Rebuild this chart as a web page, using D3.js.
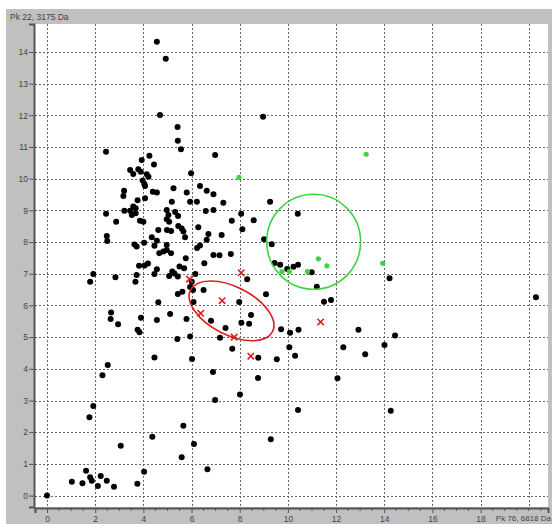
<!DOCTYPE html>
<html><head><meta charset="utf-8">
<script src="https://cdn.jsdelivr.net/npm/d3@7"></script>
<style>
html,body{margin:0;padding:0;background:#fff;}
svg{display:block;font-family:"Liberation Sans",Arial,sans-serif;}
</style></head><body>
<svg id="chart" width="552" height="524"></svg>
<script>
// Peak intensities: Pk 76 (x) against Pk 22 (y)
const xAxisTitle = "Pk 76, 6818 Da";
const yAxisTitle = "Pk 22, 3175 Da";
const xTicks = [0, 2, 4, 6, 8, 10, 12, 14, 16, 18];
const yTicks = [0, 1, 2, 3, 4, 5, 6, 7, 8, 9, 10, 11, 12, 13, 14];
const xGrid = [0, 2, 4, 6, 8, 10, 12, 14, 16, 18, 20];

// Unclassified samples
const blackPoints = [
  [4.56,14.32],[4.93,13.78],[4.69,12.01],[8.97,11.95],[5.42,11.63],[5.43,11.20],[5.56,10.93],[2.45,10.85],
  [3.45,10.27],[3.58,10.15],[3.79,10.30],[4.25,10.72],[3.93,10.59],[4.44,10.45],[3.89,10.22],
  [4.14,10.14],[4.21,10.06],[3.97,9.94],[4.04,9.83],[4.07,9.77],[4.39,9.59],[4.56,9.56],
  [3.20,9.62],[3.17,9.45],[3.76,9.32],[4.07,9.38],[2.45,8.89],[3.58,9.12],[3.68,9.07],
  [3.45,8.99],[3.21,8.99],[3.52,8.85],[3.68,8.91],[2.87,8.64],[3.86,8.67],[4.00,8.64],
  [2.48,8.19],[2.50,8.03],[3.63,7.92],[3.72,7.86],[1.92,6.99],[1.79,6.75],[2.84,6.89],
  [3.72,6.96],[3.67,6.75],[3.82,7.25],[2.66,5.78],[2.64,5.57],[2.95,5.41],[3.76,5.23],
  [3.84,5.15],[2.52,4.12],[2.30,3.80],[4.62,8.38],[4.03,7.98],[4.35,8.15],[4.56,8.04],
  [4.46,7.88],[4.66,7.65],[4.83,7.70],[4.05,7.26],[4.19,7.32],[4.56,7.14],[4.46,6.99],
  [4.62,6.10],[3.90,5.61],[4.56,5.54],[4.46,4.36],
  [6.98,10.75],[5.98,10.17],[5.25,9.70],[6.35,9.77],[6.63,9.62],[6.91,9.51],[5.80,9.56],
  [7.32,9.24],[5.18,9.27],[5.94,9.27],[6.22,9.27],[4.97,9.01],[5.04,8.85],[4.97,8.72],
  [5.07,8.64],[5.32,8.95],[5.44,8.82],[6.59,8.98],[6.91,9.01],[8.06,8.89],[7.67,8.67],
  [8.58,8.69],[4.98,8.38],[5.15,8.35],[5.45,8.51],[5.59,8.43],[5.66,8.33],[6.28,8.47],
  [8.11,8.40],[5.73,8.15],[6.70,8.25],[6.63,8.07],[7.25,8.22],[6.35,7.89],[6.23,7.81],
  [4.97,7.91],[4.97,7.75],[5.15,7.65],[5.76,7.49],[6.91,7.59],[7.16,7.58],[7.63,7.62],
  [6.53,7.33],[5.20,7.07],[5.07,6.93],[5.29,7.01],[5.43,6.91],[5.50,7.23],[5.69,7.17],
  [6.16,6.99],[6.01,6.75],[5.94,6.58],[6.06,6.49],[5.62,6.43],[5.43,6.36],[6.50,6.49],
  [8.31,6.83],[7.98,6.11],[6.08,6.11],[5.11,5.73],[5.79,5.57],[6.81,5.52],[8.07,5.45],
  [8.39,5.42],[7.41,5.29],[5.41,4.94],[5.94,5.02],[7.18,4.98],[7.69,4.63],[6.02,4.31],
  [8.47,5.70],[9.09,6.35],[8.77,4.35],[9.54,4.30],
  [9.26,9.27],[10.41,8.89],[9.01,8.09],[9.33,7.93],[9.45,7.34],[9.68,7.28],[9.97,7.15],
  [10.23,7.22],[10.42,7.28],[10.99,7.05],[11.20,6.59],[11.50,6.12],[11.79,6.17],[9.72,5.25],
  [10.09,5.14],[10.44,5.23],[10.06,4.68],[10.30,4.41],
  [14.22,6.86],[20.30,6.26],[12.93,5.23],[14.45,5.05],[12.30,4.68],[13.21,4.46],[14.01,4.75],
  [12.06,3.70],[14.27,2.68],
  [0.00,0.00],[1.92,2.83],[1.76,2.47],[3.06,1.57],[4.37,1.86],[5.66,2.20],[6.10,1.63],
  [5.59,1.21],[6.66,0.83],[6.98,3.02],[9.29,1.78],[4.03,0.75],[3.75,0.37],[1.03,0.44],
  [1.47,0.39],[1.62,0.78],[1.79,0.58],[1.86,0.47],[2.23,0.62],[2.48,0.47],[2.11,0.30],
  [2.78,0.28],
  [6.89,3.90],[8.01,3.19],[8.76,3.71],[10.42,2.70]
];

// Group A samples (drawn as crosses)
const redPoints = [
  [5.91,6.83],[8.06,7.03],[7.27,6.15],[6.38,5.75],[7.77,5.00],[8.46,4.40],[11.36,5.48]
];

// Group B samples
const greenPoints = [
  [7.97,10.04],[13.25,10.77],[13.94,7.33],[11.27,7.47],[11.62,7.25],[10.81,7.07],
  [9.75,7.07],[10.06,7.07]
];

// Cluster outlines: centre and half-widths in data units, tilt in degrees
const greenCluster = {cx: 11.07, cy: 8.01, rx: 1.95, ry: 1.50, tilt: 0};
const redCluster = {cx: 7.66, cy: 5.83, tilt: 27};

const svg = d3.select("#chart");
const W = 552, H = 524;
const plot = {left: 35, right: 548, top: 24, bottom: 507};

const x = d3.scaleLinear().domain([-0.5, 20.8]).range([plot.left, plot.right]);
const y = d3.scaleLinear().domain([-0.36, 14.88]).range([plot.bottom, plot.top]);

// frame
svg.append("rect").attr("x", 6).attr("y", 9).attr("width", W - 6).attr("height", H - 9)
  .attr("fill", "#c0c0c0");
svg.append("rect").attr("x", plot.left).attr("y", plot.top)
  .attr("width", plot.right - plot.left).attr("height", plot.bottom - plot.top)
  .attr("fill", "#fff");

// grid
const grid = svg.append("g").attr("stroke", "#666").attr("stroke-dasharray", "2,2")
  .attr("stroke-width", 1);
grid.selectAll("line.h").data(yTicks).join("line").attr("class", "h")
  .attr("x1", plot.left).attr("x2", plot.right)
  .attr("y1", d => Math.round(y(d)) + 0.5).attr("y2", d => Math.round(y(d)) + 0.5);
grid.selectAll("line.v").data(xGrid).join("line").attr("class", "v")
  .attr("y1", plot.top).attr("y2", plot.bottom)
  .attr("x1", d => Math.round(x(d)) + 0.5).attr("x2", d => Math.round(x(d)) + 0.5);

// axes
const yAxis = d3.axisLeft(y).tickValues(yTicks).tickSize(5).tickPadding(1).tickFormat(d3.format("d"));
const gy = svg.append("g").attr("transform", `translate(${plot.left - 1},0)`).call(yAxis);
gy.select(".domain").attr("stroke", "#555").attr("stroke-width", 2);
gy.selectAll(".tick line").attr("stroke", "#555");
gy.selectAll(".tick text").attr("fill", "#444").attr("font-size", 8.5);

const xAxis = d3.axisBottom(x).tickValues(xTicks).tickSize(5).tickPadding(3).tickFormat(d3.format("d"));
const gx = svg.append("g").attr("transform", `translate(0,${plot.bottom + 1})`).call(xAxis);
gx.select(".domain").attr("stroke", "#555").attr("stroke-width", 2);
gx.selectAll(".tick line").attr("stroke", "#555");
gx.selectAll(".tick text").attr("fill", "#444").attr("font-size", 8.5);
// minor ticks
const minor = d3.range(-0.5, 20.8, 0.5).filter(v => !xTicks.includes(v));
gx.selectAll("line.minor").data(minor).join("line").attr("class", "minor")
  .attr("x1", d => x(d)).attr("x2", d => x(d)).attr("y1", 0).attr("y2", 3)
  .attr("stroke", "#555");

svg.append("text").attr("x", 10).attr("y", 20).attr("font-size", 8.5).attr("fill", "#444")
  .text(yAxisTitle);
svg.append("text").attr("x", 551).attr("y", 521).attr("text-anchor", "end")
  .attr("font-size", 8).attr("fill", "#444")
  .text(xAxisTitle);

// marks
const marks = svg.append("g");
marks.selectAll("circle.b").data(blackPoints).join("circle").attr("class", "b")
  .attr("cx", d => x(d[0])).attr("cy", d => y(d[1])).attr("r", 3).attr("fill", "#000");

marks.selectAll("circle.g").data(greenPoints).join("circle").attr("class", "g")
  .attr("cx", d => x(d[0])).attr("cy", d => y(d[1])).attr("r", 2.6).attr("fill", "#3fd43f");

const s = 3.2;
marks.selectAll("path.r").data(redPoints).join("path").attr("class", "r")
  .attr("d", d => {
    const px = x(d[0]), py = y(d[1]);
    return `M${px - s},${py - s}L${px + s},${py + s}M${px - s},${py + s}L${px + s},${py - s}`;
  })
  .attr("stroke", "#dd1f1f").attr("stroke-width", 1.6).attr("fill", "none");

// cluster outlines
marks.append("ellipse")
  .attr("cx", x(greenCluster.cx)).attr("cy", y(greenCluster.cy))
  .attr("rx", x(greenCluster.cx + greenCluster.rx) - x(greenCluster.cx))
  .attr("ry", y(greenCluster.cy) - y(greenCluster.cy + greenCluster.ry))
  .attr("fill", "none").attr("stroke", "#3fd43f").attr("stroke-width", 1.6);

marks.append("ellipse")
  .attr("transform", `translate(${x(redCluster.cx)},${y(redCluster.cy)}) rotate(${redCluster.tilt})`)
  .attr("rx", 46).attr("ry", 24)
  .attr("fill", "none").attr("stroke", "#dd1f1f").attr("stroke-width", 1.6);
</script>
</body></html>
